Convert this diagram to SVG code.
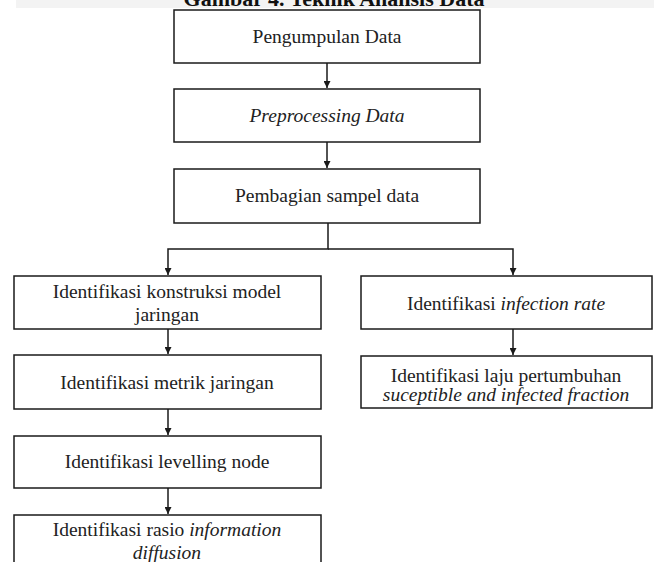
<svg xmlns="http://www.w3.org/2000/svg" width="654" height="562" viewBox="0 0 654 562">
<style>
.box{fill:#fff;stroke:#1a1a1a;stroke-width:1.5}
.t{font-family:"Liberation Serif","Times New Roman",serif;font-size:19.5px;fill:#222;text-anchor:middle}
.i{font-style:italic}
.c{fill:none;stroke:#1a1a1a;stroke-width:1.5}
.title{font-family:"Liberation Serif","Times New Roman",serif;font-size:22px;font-weight:bold;fill:#111;text-anchor:middle}
</style>
<defs>
<marker id="ah" viewBox="0 0 10 10" refX="10" refY="5" markerWidth="7" markerHeight="7" orient="auto" markerUnits="userSpaceOnUse">
<path d="M0,0 L10,5 L0,10 z" fill="#1a1a1a"/>
</marker>
</defs>
<rect x="16" y="0" width="638" height="8" fill="#f3f3f3"/>
<text class="title" x="334" y="6">Gambar  4. Teknik Analisis Data</text>
<g id="connectors">
<line class="c" x1="327" y1="63" x2="327" y2="88" marker-end="url(#ah)"/>
<line class="c" x1="327" y1="142" x2="327" y2="168" marker-end="url(#ah)"/>
<polyline class="c" points="328,223 328,249 168,249 168,275" marker-end="url(#ah)"/>
<polyline class="c" points="328,249 513,249 513,275" marker-end="url(#ah)"/>
<line class="c" x1="168" y1="329" x2="168" y2="354" marker-end="url(#ah)"/>
<line class="c" x1="168" y1="409" x2="168" y2="435" marker-end="url(#ah)"/>
<line class="c" x1="168" y1="488" x2="168" y2="514" marker-end="url(#ah)"/>
<line class="c" x1="513" y1="329" x2="513" y2="355" marker-end="url(#ah)"/>
</g>
<g id="n1"><rect class="box" x="174" y="10" width="306" height="53"/><text class="t" x="327" y="43">Pengumpulan Data</text></g>
<g id="n2"><rect class="box" x="174" y="89" width="306" height="53"/><text class="t i" x="327" y="122">Preprocessing Data</text></g>
<g id="n3"><rect class="box" x="174" y="169" width="306" height="54"/><text class="t" x="327" y="202">Pembagian sampel data</text></g>
<g id="n4"><rect class="box" x="14" y="276" width="307" height="53"/><text class="t" x="167" y="298">Identifikasi konstruksi model</text><text class="t" x="167" y="321">jaringan</text></g>
<g id="n5"><rect class="box" x="14" y="355" width="307" height="54"/><text class="t" x="167" y="389">Identifikasi metrik jaringan</text></g>
<g id="n6"><rect class="box" x="14" y="436" width="307" height="52"/><text class="t" x="167" y="468">Identifikasi levelling node</text></g>
<g id="n7"><rect class="box" x="14" y="515" width="307" height="60"/><text class="t" x="167" y="536">Identifikasi rasio <tspan class="i">information</tspan></text><text class="t i" x="167" y="559">diffusion</text></g>
<g id="n8"><rect class="box" x="361" y="276" width="291" height="53"/><text class="t" x="506" y="310">Identifikasi <tspan class="i">infection rate</tspan></text></g>
<g id="n9"><rect class="box" x="361" y="356" width="291" height="52"/><text class="t" x="506" y="382">Identifikasi laju pertumbuhan</text><text class="t i" x="506" y="401">suceptible and infected fraction</text></g>
</svg>
